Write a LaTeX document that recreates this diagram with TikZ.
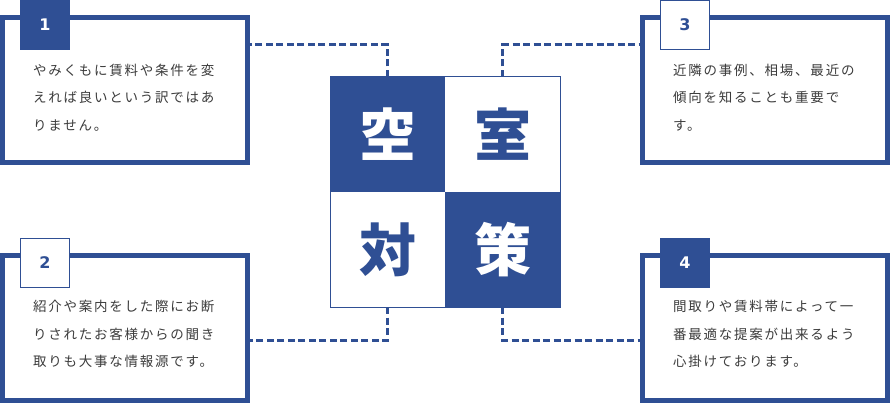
\documentclass[tikz,border=0pt]{standalone}
\usepackage{fontspec}
\newfontfamily\cjktext[LetterSpace=13]{Noto Sans CJK JP}
\newfontfamily\cjkbig{Noto Sans CJK JP}
\newfontfamily\numfont{DejaVu Sans}
\definecolor{navy}{HTML}{2F4F94}
\definecolor{txt}{HTML}{3C3C3C}
\tikzset{
  bigbox/.style={draw=navy, line width=5pt, fill=white, minimum width=245pt, minimum height=145pt, inner sep=0pt},
  badgefill/.style={fill=navy, text=white, minimum size=50pt, inner sep=0pt, font=\numfont\bfseries\fontsize{16}{16}\selectfont},
  badgeline/.style={fill=white, draw=navy, line width=1pt, text=navy, minimum size=49pt, inner sep=0pt, font=\numfont\bfseries\fontsize{16}{16}\selectfont},
  bodytext/.style={anchor=west, align=left, inner sep=0pt, text=txt, font=\cjktext\fontsize{13.5}{27.5}\selectfont},
  quad/.style={minimum size=115pt, inner sep=0pt, outer sep=0pt, font=\cjkbig\bfseries\fontsize{57}{57}\selectfont},
  conn/.style={draw=navy, line width=3pt, dash pattern=on 7pt off 3.5pt},
}
\begin{document}
\begin{tikzpicture}[x=1pt,y=-1pt]
\useasboundingbox (0,0) rectangle (890,403);
% boxes
\node[bigbox] (box1) at (125,90) {};
\node[bigbox] (box3) at (765,90) {};
\node[bigbox] (box2) at (125,328) {};
\node[bigbox] (box4) at (765,328) {};
% badges
\node[badgefill] (b1) at (45,25) {1};
\node[badgeline] (b3) at (685,25) {3};
\node[badgeline] (b2) at (45,263) {2};
\node[badgefill] (b4) at (685,263) {4};
% texts
\node[bodytext] (t1) at (33,97.7) {やみくもに賃料や条件を変\\えれば良いという訳ではあ\\りません。};
\node[bodytext] (t3) at (673,97.7) {近隣の事例、相場、最近の\\傾向を知ることも重要で\\す。};
\node[bodytext] (t2) at (33,334) {紹介や案内をした際にお断\\りされたお客様からの聞き\\取りも大事な情報源です。};
\node[bodytext] (t4) at (673,334) {間取りや賃料帯によって一\\番最適な提案が出来るよう\\心掛けております。};
% center square
\node[draw=navy, line width=1pt, fill=white, minimum size=230pt, inner sep=0pt, outer sep=0pt] (sq) at (445,192) {};
\node[quad, fill=navy, text=white] (q1) at (387.5,134.5) {空};
\node[quad, text=navy] (q2) at (502.5,134.5) {室};
\node[quad, text=navy] (q3) at (387.5,249.5) {対};
\node[quad, fill=navy, text=white] (q4) at (502.5,249.5) {策};
% connectors
\draw[conn] (q1.north) |- ([yshift=-30pt]box1.north east);
\draw[conn] (q2.north) |- ([yshift=-30pt]box3.north west);
\draw[conn] (q3.south) |- ([yshift=63pt]box2.south east);
\draw[conn] (q4.south) |- ([yshift=63pt]box4.south west);
\end{tikzpicture}
\end{document}
